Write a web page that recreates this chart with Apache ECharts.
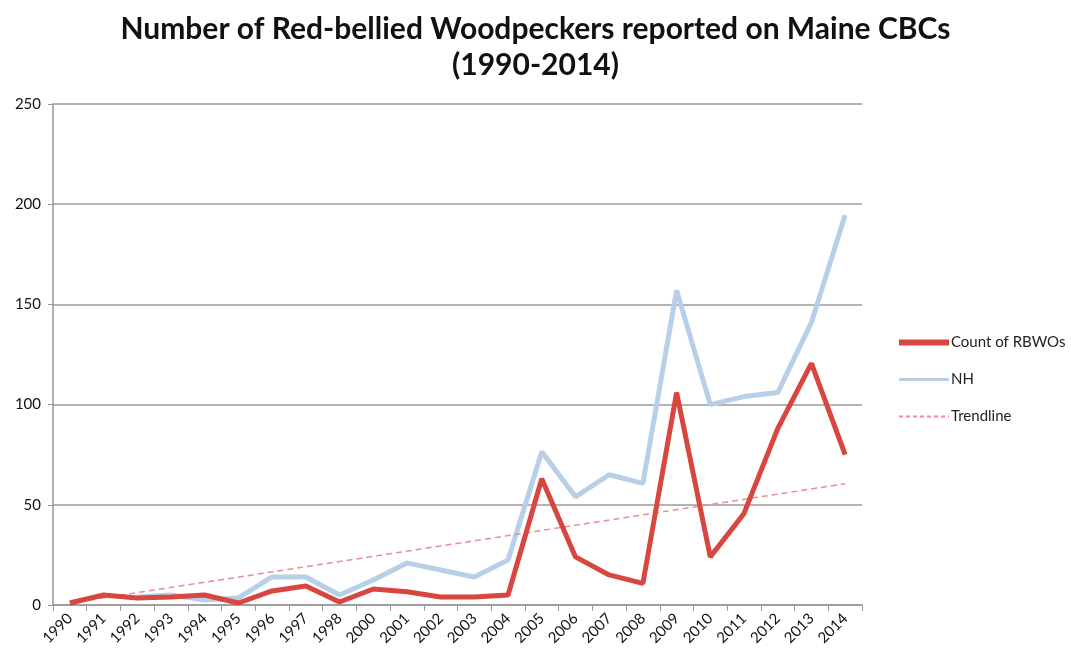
<!DOCTYPE html>
<html>
<head>
<meta charset="utf-8">
<script src="https://cdn.jsdelivr.net/npm/echarts@6/dist/echarts.min.js"></script>
<style>html,body{margin:0;padding:0;background:#fff;}#c{width:1071px;height:665px;}</style>
</head>
<body>
<div id="c"></div>
<script>
var years = ['1990','1991','1992','1993','1994','1995','1996','1997','1998','2000','2001','2002','2003','2004','2005','2006','2007','2008','2009','2010','2011','2012','2013','2014'];
var countRBWO = [1,5,3.5,4,5,1,7,9.5,1.5,8,6.6,4,4,5,63,24,15,10.8,106,24,45.7,88,120.6,75];
var nh = [null,null,4,5,2.5,3.5,14,14,5,12.5,21,17.5,14,22.5,76.5,54,65,60.7,157,100,104,106,141,194.6];
var trendEnds = [1,null,null,null,null,null,null,null,null,null,null,null,null,null,null,null,null,null,null,null,null,null,null,60.5];
var yTicks = [0,50,100,150,200,250];

var RED = '#d9453f', BLUE = '#b8cfe8', PINK = '#ec8a96';
var chart = echarts.init(document.getElementById('c'));
chart.setOption({
  animation:false,
  backgroundColor:'#fff',
  title:{
    text:'Number of Red-bellied Woodpeckers reported on Maine CBCs\n(1990-2014)',
    left:'center', top:6,
    textStyle:{fontFamily:'Lato', fontWeight:'bold', fontSize:30, color:'#111', lineHeight:36}
  },
  legend:{
    orient:'vertical', left:891, top:330, itemWidth:50, itemHeight:12, itemGap:22,
    itemStyle:{opacity:0},
    textStyle:{fontFamily:'Lato', fontSize:15, color:'#222', padding:[0,0,0,-3]},
    data:[
      {name:'Count of RBWOs', lineStyle:{width:6, color:RED}},
      {name:'NH', lineStyle:{width:3, color:BLUE}},
      {name:'Trendline', lineStyle:{width:2, color:PINK, type:[4,3]}}
    ]
  },
  grid:{left:53, right:209, top:104, bottom:60, containLabel:false},
  xAxis:{
    type:'category', data:years, boundaryGap:true,
    axisLine:{lineStyle:{color:'#999', width:1.5}},
    axisTick:{show:true, length:6, lineStyle:{color:'#999'}},
    axisLabel:{rotate:45, fontFamily:'Lato', fontSize:15, color:'#111', margin:11, interval:0}
  },
  yAxis:{
    type:'value', min:yTicks[0], max:yTicks[yTicks.length-1], interval:50,
    axisLine:{show:true, lineStyle:{color:'#999', width:1.5}},
    axisTick:{show:true, length:5, lineStyle:{color:'#999'}},
    axisLabel:{fontFamily:'Lato', fontSize:15, color:'#111', margin:12},
    splitLine:{lineStyle:{color:'#9a9a9a', width:1.5}}
  },
  series:[
    {name:'Trendline', type:'line', data:trendEnds, connectNulls:true, symbol:'none', z:3,
     lineStyle:{color:PINK, width:1.5, type:[6,4]}, itemStyle:{color:PINK}},
    {name:'NH', type:'line', data:nh, symbol:'none', z:2,
     lineStyle:{color:BLUE, width:5}, itemStyle:{color:BLUE}},
    {name:'Count of RBWOs', type:'line', data:countRBWO, symbol:'none', z:4,
     lineStyle:{color:RED, width:5}, itemStyle:{color:RED}}
  ]
});
</script>
</body>
</html>
